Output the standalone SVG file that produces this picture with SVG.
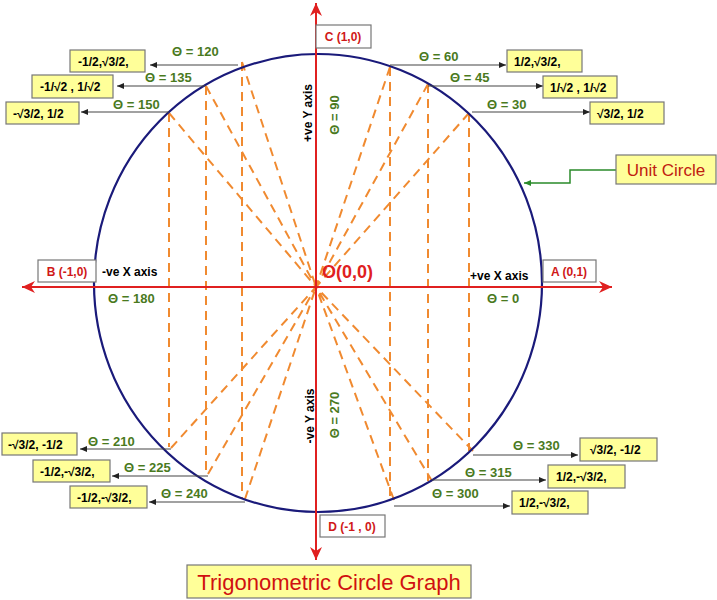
<svg xmlns="http://www.w3.org/2000/svg" width="717" height="600" viewBox="0 0 717 600">
<style>
.bx{fill:#ffff99;stroke:#777;stroke-width:1.2}
.lb{fill:#fff;stroke:#777;stroke-width:1.2}
.v{font-family:"Liberation Sans",Arial,sans-serif;font-weight:bold;font-size:12px;fill:#000}
.t{font-family:"Liberation Sans",Arial,sans-serif;font-weight:bold;font-size:13px;fill:#4a7a1e}
.r{font-family:"Liberation Sans",Arial,sans-serif;font-weight:bold;font-size:12px;fill:#d01818}
.k{font-family:"Liberation Sans",Arial,sans-serif;font-weight:bold;font-size:12px;fill:#000}
.d{stroke:#f08a30;stroke-width:2;stroke-dasharray:9,6;fill:none}
.p{stroke:#444;stroke-width:1.2;fill:none}
</style>
<defs>
<marker id="ab" markerWidth="8" markerHeight="8" refX="7" refY="4" orient="auto" markerUnits="userSpaceOnUse"><path d="M0,1 L7,4 L0,7z" fill="#222"/></marker>
<marker id="ag" markerWidth="8" markerHeight="8" refX="7" refY="4" orient="auto" markerUnits="userSpaceOnUse"><path d="M0,1 L7,4 L0,7z" fill="#2a8a2a"/></marker>
<marker id="ar" markerWidth="14" markerHeight="12" refX="13" refY="6" orient="auto" markerUnits="userSpaceOnUse"><path d="M0,0 L13,6 L0,12 L4,6z" fill="#e02020"/></marker>
</defs>
<rect width="717" height="600" fill="#fff"/>
<g id="dashes">
<path class="d" d="M169,113 V447 M206,86 V474 M242,62 V499 M390,67 V500 M428,84 V481 M469,113 V451"/>
<path class="d" d="M169,113 L316,287 M206,86 L316,287 M242,62 L316,287 M390,67 L316,287 M428,84 L316,287 M469,113 L316,287 M171,448 L316,287 M208,474 L316,287 M245,499 L316,287 M394,500 L316,287 M432,481 L316,287 M473,451 L316,287"/>
</g>
<g id="circle"><ellipse cx="318" cy="283" rx="224" ry="229" fill="none" stroke="#1a1a7a" stroke-width="2.2"/></g>
<g id="axes" stroke="#e02020" stroke-width="2">
<line x1="316" y1="287" x2="612" y2="287" marker-end="url(#ar)"/>
<line x1="316" y1="287" x2="22" y2="287" marker-end="url(#ar)"/>
<line x1="316" y1="287" x2="316" y2="3" marker-end="url(#ar)"/>
<line x1="316" y1="287" x2="316" y2="560" marker-end="url(#ar)"/>
</g>
<g id="connectors">
<path class="p" d="M238,65 H150" marker-end="url(#ab)"/>
<path class="p" d="M205,86 H117" marker-end="url(#ab)"/>
<path class="p" d="M169,112 H81" marker-end="url(#ab)"/>
<path class="p" d="M390,65 H506" marker-end="url(#ab)"/>
<path class="p" d="M428,86 H543" marker-end="url(#ab)"/>
<path class="p" d="M472,112 H590" marker-end="url(#ab)"/>
<path class="p" d="M171,449 H80" marker-end="url(#ab)"/>
<path class="p" d="M208,476 H112" marker-end="url(#ab)"/>
<path class="p" d="M245,502 H149" marker-end="url(#ab)"/>
<path class="p" d="M473,455 H578" marker-end="url(#ab)"/>
<path class="p" d="M432,480 H546" marker-end="url(#ab)"/>
<path class="p" d="M394,506 H510" marker-end="url(#ab)"/>
<path d="M616,170 H570 V183 H524" stroke="#2a8a2a" stroke-width="1.5" fill="none" marker-end="url(#ag)"/>
</g>
<g id="n-c"><rect class="lb" x="316" y="25" width="55" height="23"/><text class="r" x="343" y="41" text-anchor="middle">C (1,0)</text></g>
<g id="n-b"><rect class="lb" x="38" y="260" width="58" height="22"/><text class="r" x="67" y="276" text-anchor="middle">B (-1,0)</text></g>
<g id="n-a"><rect class="lb" x="543" y="260" width="53" height="22"/><text class="r" x="569" y="276" text-anchor="middle">A (0,1)</text></g>
<g id="n-d"><rect class="lb" x="320" y="515" width="65" height="22"/><text class="r" x="352" y="531" text-anchor="middle">D (-1 , 0)</text></g>
<g id="n-o"><text x="322" y="278" font-family="Liberation Sans,Arial,sans-serif" font-weight="bold" font-size="18" fill="#e02020">O(0,0)</text></g>
<g id="axis-labels">
<text class="k" x="102" y="276">-ve X axis</text>
<text class="k" x="470" y="280">+ve X axis</text>
<text class="k" transform="translate(312,113) rotate(-90)" text-anchor="middle">+ve Y axis</text>
<text class="k" transform="translate(314,416) rotate(-90)" text-anchor="middle">-ve Y axis</text>
<text class="t" transform="translate(339,115) rotate(-90)" text-anchor="middle">Θ = 90</text>
<text class="t" transform="translate(339,415) rotate(-90)" text-anchor="middle">Θ = 270</text>
<text class="t" x="108" y="303">Θ = 180</text>
<text class="t" x="487" y="303">Θ = 0</text>
</g>
<g id="angles" class="t">
<text class="t" x="172" y="56">Θ = 120</text>
<text class="t" x="145" y="82">Θ = 135</text>
<text class="t" x="113" y="109">Θ = 150</text>
<text class="t" x="419" y="61">Θ = 60</text>
<text class="t" x="450" y="82">Θ = 45</text>
<text class="t" x="487" y="109">Θ = 30</text>
<text class="t" x="88" y="446">Θ = 210</text>
<text class="t" x="124" y="472">Θ = 225</text>
<text class="t" x="161" y="498">Θ = 240</text>
<text class="t" x="513" y="450">Θ = 330</text>
<text class="t" x="465" y="477">Θ = 315</text>
<text class="t" x="432" y="498">Θ = 300</text>
</g>
<g id="v120"><rect class="bx" x="70" y="50" width="75" height="22"/><text class="v" x="78" y="66">-1/2,√3/2,</text></g>
<g id="v135"><rect class="bx" x="32" y="75" width="81" height="23"/><text class="v" x="40" y="91">-1/√2 , 1/√2</text></g>
<g id="v150"><rect class="bx" x="6" y="102" width="73" height="22"/><text class="v" x="13" y="118">-√3/2, 1/2</text></g>
<g id="v60"><rect class="bx" x="507" y="50" width="75" height="22"/><text class="v" x="514" y="66">1/2,√3/2,</text></g>
<g id="v45"><rect class="bx" x="543" y="76" width="74" height="22"/><text class="v" x="550" y="92">1/√2 , 1/√2</text></g>
<g id="v30"><rect class="bx" x="590" y="102" width="74" height="22"/><text class="v" x="597" y="118">√3/2, 1/2</text></g>
<g id="v210"><rect class="bx" x="2" y="433" width="75" height="22"/><text class="v" x="8" y="449">-√3/2, -1/2</text></g>
<g id="v225"><rect class="bx" x="33" y="460" width="77" height="22"/><text class="v" x="40" y="476">-1/2,-√3/2,</text></g>
<g id="v240"><rect class="bx" x="70" y="486" width="77" height="22"/><text class="v" x="77" y="502">-1/2,-√3/2,</text></g>
<g id="v330"><rect class="bx" x="580" y="438" width="77" height="23"/><text class="v" x="590" y="454">√3/2, -1/2</text></g>
<g id="v315"><rect class="bx" x="548" y="465" width="77" height="23"/><text class="v" x="556" y="481">1/2,-√3/2,</text></g>
<g id="v300"><rect class="bx" x="512" y="491" width="76" height="23"/><text class="v" x="519" y="507">1/2,-√3/2,</text></g>
<g id="unit"><rect class="bx" x="616" y="155" width="100" height="29"/><text x="666" y="176" text-anchor="middle" font-family="Liberation Sans,Arial,sans-serif" font-size="17" fill="#c02010">Unit Circle</text></g>
<g id="title"><rect class="bx" x="187" y="565" width="284" height="33"/><text x="329" y="590" text-anchor="middle" font-family="Liberation Sans,Arial,sans-serif" font-size="22" fill="#d01010">Trigonometric Circle Graph</text></g>
</svg>
